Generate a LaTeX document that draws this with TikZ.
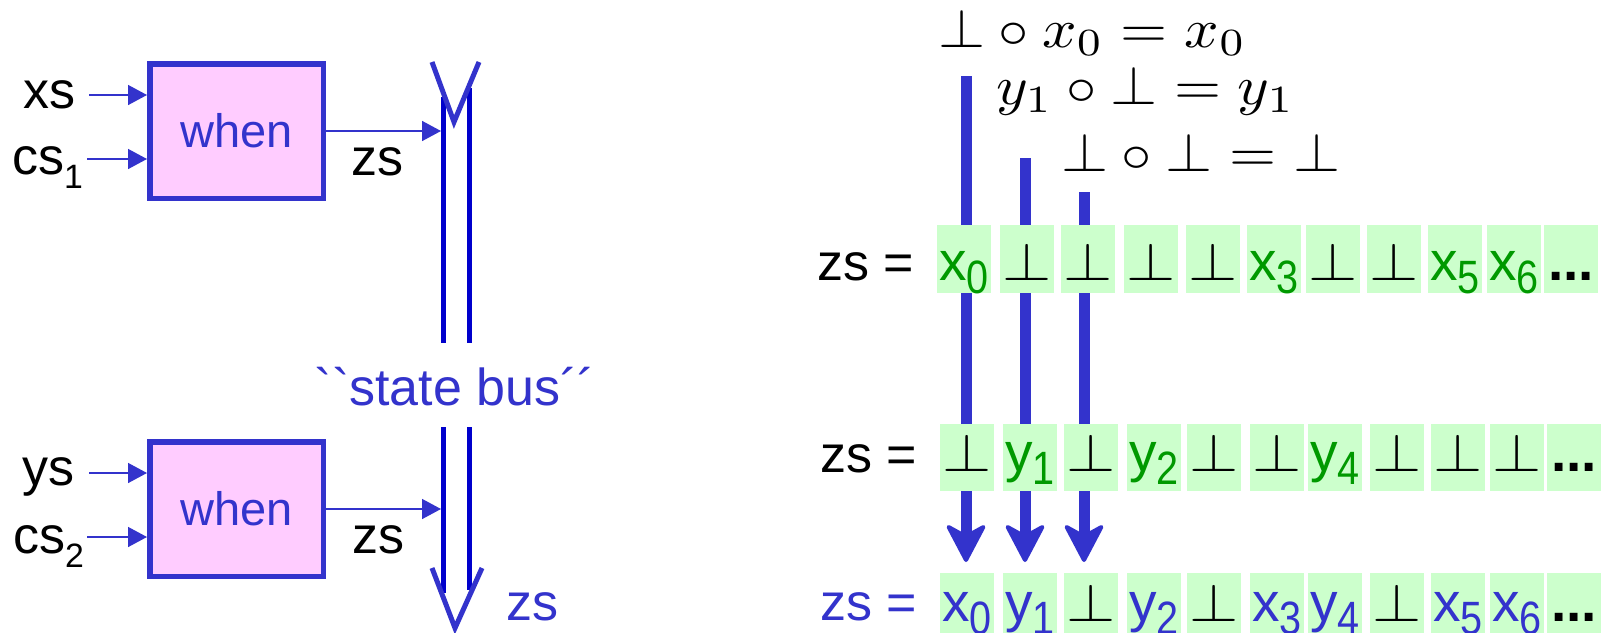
\documentclass[tikz,border=0pt]{standalone}
\usepackage{fontspec}
\usepackage{graphicx}
\usetikzlibrary{arrows.meta}
\newfontfamily\arial{Liberation Sans}
\definecolor{myblue}{HTML}{3333CC}
\definecolor{busblue}{HTML}{0000CC}
\definecolor{mypink}{HTML}{FFCCFF}
\definecolor{cellgreen}{HTML}{CCFFCC}
\definecolor{txtgreen}{HTML}{009900}
\newcommand{\lbf}{\arial\fontsize{52}{56}\selectfont}
\newcommand{\whenf}{\arial\fontsize{47}{50}\selectfont}
\newcommand{\cellf}{\arial\fontsize{55}{58}\selectfont}
\newcommand{\sbs}[1]{\raisebox{-13pt}{\scalebox{0.72}[0.85]{#1}}}
\newcommand{\bt}{\scalebox{6.32}[5.4]{\normalsize$\bot$}}
\newcommand{\lsub}[1]{\raisebox{-14pt}{\scalebox{0.65}{#1}}}
\newcommand{\gx}[1]{{\color{txtgreen}#1}}
\newcommand{\bx}[1]{{\color{myblue}#1}}
\newcommand{\eqs}[1]{\scalebox{6.05}[5.5]{\normalsize$#1$}}
\tikzset{
  lbl/.style={inner sep=0pt, anchor=base west, font=\lbf},
  whenbox/.style={draw=myblue, line width=5.5pt, fill=mypink, minimum width=173.5pt,
    minimum height=134.5pt, inner sep=0pt, font=\whenf, text=myblue},
  inarrow/.style={draw=myblue, line width=1.5pt, -{Triangle[length=19pt,width=20pt]}},
  bus/.style={draw=busblue, line width=5pt},
  vee/.style={draw=myblue, line width=5pt},
  bigarrow/.style={draw=myblue, line width=11pt,
    -{Stealth[length=42pt,width=44pt,inset=12pt,round,line width=4pt]}},
  cellA/.style={fill=cellgreen, inner sep=0pt, minimum width=54pt, text height=55pt,
    text depth=13pt, anchor=north west, font=\cellf},
  cellB/.style={fill=cellgreen, inner sep=0pt, minimum width=54pt, text height=47pt,
    text depth=20pt, anchor=north west, font=\cellf},
  cellC/.style={fill=cellgreen, inner sep=0pt, minimum width=54pt, text height=48pt,
    text depth=20pt, anchor=north west, font=\cellf},
  eq/.style={inner sep=0pt, anchor=base west}
}
\begin{document}
\begin{tikzpicture}[x=1pt,y=-1pt]
\useasboundingbox (0,0) rectangle (1601,632);
\clip (0,0) rectangle (1601,632);
\fill[white] (0,0) rectangle (1601,632);

% ---------- left part ----------
\node[whenbox] (w1) at (236.5,131) {when};
\node[whenbox] (w2) at (236.5,509) {when};

\node[lbl] (xs) at (23,108) {xs};
\node[lbl] (cs1) at (12,174) {cs\lsub{1}};
\node[lbl] (ys) at (22,485) {ys};
\node[lbl] (cs2) at (13,553) {cs\lsub{2}};
\node[lbl] (zs1) at (351,175) {zs};
\node[lbl] (zs2) at (352,553) {zs};
\node[lbl, text=myblue] (zs3) at (506,620) {zs};
\node[inner sep=0pt, anchor=base, font=\lbf, text=myblue] (sb) at (455,405) {``state bus´´};

\coordinate (xsS) at (89,95);
\coordinate (cs1S) at (87,159);
\coordinate (ysS) at (89,473);
\coordinate (cs2S) at (87,537);
\draw[inarrow] (xsS) -- (xsS -| w1.west);
\draw[inarrow] (cs1S) -- (cs1S -| w1.west);
\draw[inarrow] (ysS) -- (ysS -| w2.west);
\draw[inarrow] (cs2S) -- (cs2S -| w2.west);

% bus
\coordinate (b1) at (443.5,97);  \coordinate (b1e) at (443.5,343);
\coordinate (b2) at (469,88);    \coordinate (b2e) at (469,343);
\coordinate (b3) at (443.5,427); \coordinate (b3e) at (443.5,593);
\coordinate (b4) at (469,427);   \coordinate (b4e) at (469,590);
\draw[bus] (b1) -- (b1e);
\draw[bus] (b2) -- (b2e);
\draw[bus] (b3) -- (b3e);
\draw[bus] (b4) -- (b4e);
\coordinate (v1a) at (432,62); \coordinate (v1b) at (454,122); \coordinate (v1c) at (479,62);
\coordinate (v2a) at (432,568); \coordinate (v2b) at (455,628); \coordinate (v2c) at (482,568);
\draw[vee] (v1a) -- (v1b) -- (v1c);
\draw[vee] (v2a) -- (v2b) -- (v2c);

\coordinate (o1) at (441,131);
\coordinate (o2) at (441,509);
\draw[inarrow] (w1.east |- o1) -- (o1);
\draw[inarrow] (w2.east |- o2) -- (o2);

% ---------- right part ----------
\coordinate (ta) at (966,76);   \coordinate (tA) at (966,562);
\coordinate (tb) at (1025,158); \coordinate (tB) at (1025,562);
\coordinate (tc) at (1084,192); \coordinate (tC) at (1084,562);
\draw[bigarrow] (ta) -- (tA);
\draw[bigarrow] (tb) -- (tB);
\draw[bigarrow] (tc) -- (tC);

\node[eq] (eq1) at (938,47) {\eqs{\bot\circ x_0 = x_0}};
\node[eq] (eq2) at (996,104) {\eqs{y_1\circ \bot = y_1}};
\node[eq] (eq3) at (1061,171) {\eqs{\bot\circ\bot = \bot}};

\node[lbl] (zsA) at (817,280) {zs =};
\node[lbl] (zsB) at (820,472) {zs =};
\node[lbl, text=myblue] (zsC) at (820,620) {zs =};

\foreach \x/\c [count=\i] in {937/{\gx{x\sbs{0}}}, 1000/\bt, 1061/\bt, 1124/\bt, 1186/\bt,
   1247/{\gx{x\sbs{3}}}, 1306/\bt, 1367/\bt, 1428/{\gx{x\sbs{5}}}, 1487/{\gx{x\sbs{6}}},
   1544/{\bfseries ...}}
  \node[cellA] (r1c\i) at (\x,225) {\c};

\foreach \x/\c [count=\i] in {940/\bt, 1003/{\gx{y\sbs{1}}}, 1064/\bt, 1127/{\gx{y\sbs{2}}},
   1187/\bt, 1250/\bt, 1308/{\gx{y\sbs{4}}}, 1370/\bt, 1431/\bt, 1490/\bt,
   1547/{\bfseries ...}}
  \node[cellB] (r2c\i) at (\x,424) {\c};

\foreach \x/\c [count=\i] in {940/{\bx{x\sbs{0}}}, 1003/{\bx{y\sbs{1}}}, 1064/\bt,
   1127/{\bx{y\sbs{2}}}, 1187/\bt, 1250/{\bx{x\sbs{3}}}, 1308/{\bx{y\sbs{4}}}, 1370/\bt,
   1431/{\bx{x\sbs{5}}}, 1490/{\bx{x\sbs{6}}}, 1547/{\bfseries ...}}
  \node[cellC] (r3c\i) at (\x,573) {\c};
\end{tikzpicture}
\end{document}
